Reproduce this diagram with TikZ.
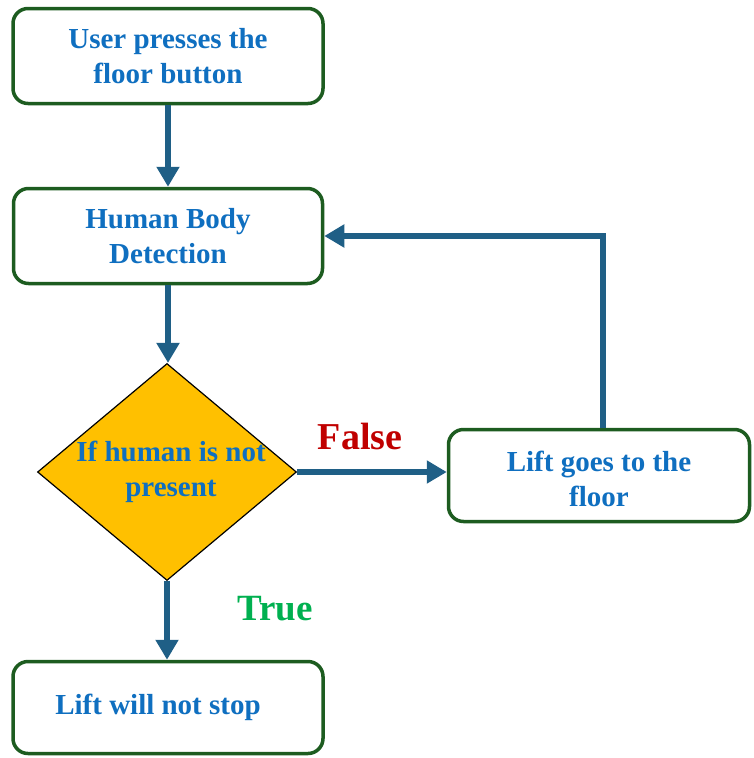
\documentclass[tikz,border=0pt]{standalone}
\usepackage{fontspec}
\setmainfont{Liberation Serif}
\usetikzlibrary{shapes.geometric,arrows.meta}
\definecolor{boxgreen}{HTML}{1D5C20}
\definecolor{arrowblue}{HTML}{1F5F86}
\definecolor{textblue}{HTML}{0F6FC0}
\definecolor{diamondgold}{HTML}{FFC000}
\definecolor{falsered}{HTML}{C00000}
\definecolor{truegreen}{HTML}{00B050}
\begin{document}
\begin{tikzpicture}[x=1pt,y=-1pt,
  stepbox/.style={draw=boxgreen, line width=3.5pt, rounded corners=15pt, fill=white,
    align=center, text=textblue, font=\fontsize{29}{35}\selectfont\bfseries, inner sep=0pt},
  decision/.style={diamond, draw=black, line width=1.2pt, fill=diamondgold, inner sep=0pt,
    minimum width=259pt, minimum height=217pt},
  bodytext/.style={align=center, text=textblue, font=\fontsize{29}{35}\selectfont\bfseries, inner sep=0pt},
  flow/.style={draw=arrowblue, line width=6pt, -{Triangle[width=22pt,length=20pt]}},
  branchlabel/.style={font=\fontsize{38}{40}\selectfont\bfseries, inner sep=0pt}]
\useasboundingbox (0,0) rectangle (753,758);
\node[stepbox, minimum width=310pt, minimum height=95pt] (b1) at (168,56) {User presses the\\floor button};
\node[stepbox, minimum width=309pt, minimum height=95pt] (b2) at (168,236) {Human Body\\Detection};
\node[decision] (d) at (167,472) {};
\node[bodytext] (dt) at (171,472) {If human is not\\present};
\node[stepbox, minimum width=301pt, minimum height=92pt] (b3) at (599,475.5)
  {\raisebox{-6pt}[\height][\depth]{\begin{tabular}{@{}c@{}}Lift goes to the\\floor\end{tabular}}};
\node[stepbox, minimum width=310pt, minimum height=92pt] (b4) at (168,707.5) {Lift will not stop\hspace*{20pt}};
\node[branchlabel, text=falsered] (fl) at (360,436) {False};
\node[branchlabel, text=truegreen, font=\fontsize{37}{40}\selectfont\bfseries] (tl) at (275,609) {True};
\draw[flow] (b1.south) -- (b1.south |- b2.north);
\draw[flow] (b2.south) -- (b2.south |- d.north);
\draw[flow] (d.east) -- (b3.west |- d.east);
\draw[flow] (d.south) -- (d.south |- b4.north);
\draw[flow] ([xshift=4pt]b3.north) |- (b2.east);
\end{tikzpicture}
\end{document}
